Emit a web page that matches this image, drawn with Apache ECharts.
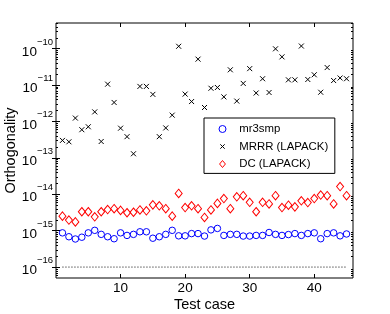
<!DOCTYPE html>
<html><head><meta charset="utf-8">
<script src="https://cdn.jsdelivr.net/npm/echarts@6/dist/echarts.min.js"></script>
<style>html,body{margin:0;padding:0;background:#fff}#c{width:390px;height:314px}</style>
</head><body><div id="c"></div>
<script>
const testCases = [1,2,3,4,5,6,7,8,9,10,11,12,13,14,15,16,17,18,19,20,21,22,23,24,25,26,27,28,29,30,31,32,33,34,35,36,37,38,39,40,41,42,43,44,45];
const mr3smp = [8.7e-16,6.8e-16,5.9e-16,6.6e-16,8.7e-16,1.02e-15,7.9e-16,6.8e-16,6.0e-16,8.7e-16,7.4e-16,7.9e-16,9.3e-16,9.3e-16,6.2e-16,6.8e-16,7.9e-16,1.02e-15,7.2e-16,7.2e-16,8.3e-16,8.3e-16,7.1e-16,1.05e-15,1.15e-15,7.4e-16,7.9e-16,7.9e-16,7.1e-16,7.1e-16,7.4e-16,7.4e-16,8.9e-16,7.9e-16,7.4e-16,7.8e-16,8.3e-16,7.4e-16,8.3e-16,8.7e-16,6.0e-16,8.3e-16,8.7e-16,7.2e-16,8.1e-16];
const mrrr = [3.0e-13,2.75e-13,1.23e-12,5.9e-13,7.1e-13,1.82e-12,2.8e-13,1.05e-11,3.3e-12,6.5e-13,3.8e-13,1.29e-13,9.1e-12,9.1e-12,5.5e-12,3.8e-13,6.6e-13,1.48e-12,1.15e-10,5.6e-12,3.5e-12,5.1e-11,2.4e-12,8.1e-12,8.5e-12,4.7e-12,2.6e-11,3.6e-12,1.1e-11,2.8e-11,6.0e-12,1.48e-11,6.2e-12,9.8e-11,5.9e-11,1.38e-11,1.38e-11,1.17e-10,1.41e-11,1.9e-11,6.3e-12,3.0e-11,1.32e-11,1.55e-11,1.48e-11];
const dc = [2.5e-15,1.95e-15,1.74e-15,3.3e-15,3.3e-15,2.4e-15,3.3e-15,3.8e-15,4.0e-15,3.6e-15,3.1e-15,3.2e-15,3.7e-15,3.5e-15,5.1e-15,4.8e-15,4.0e-15,2.5e-15,1.05e-14,4.3e-15,4.8e-15,4.0e-15,2.3e-15,3.7e-15,5.6e-15,7.6e-15,4.0e-15,8.5e-15,9.1e-15,6.0e-15,3.3e-15,6.0e-15,5.4e-15,9.1e-15,4.3e-15,5.0e-15,4.5e-15,6.6e-15,5.9e-15,7.6e-15,9.5e-15,9.1e-15,5.4e-15,1.62e-14,9.1e-15];
const seriesNames = ['mr3smp', 'MRRR (LAPACK)', 'DC (LAPACK)'];
const refLevel = 1e-16;
const refRange = [1, 45];
const xTickValues = [10, 20, 30, 40];
const yTickValues = [1e-16, 1e-15, 1e-14, 1e-13, 1e-12, 1e-11, 1e-10];
const decades = [-17,-16,-15,-14,-13,-12,-11,-10];
const minorMultipliers = [2,3,4,5,6,7,8,9];

const X_MIN = 0, X_MAX = 46;
const Y_MIN = Math.pow(10, -16.3), Y_MAX = Math.pow(10, -9.3);
const FONT = 'Liberation Sans, Arial, Helvetica, sans-serif';
const CROSS = 'path://M-3,-3M0,0L10,10M10,0L0,10M13,13';
const DIAMOND = 'path://M5,0L10,6L5,12L0,6Z';

const pairs = arr => testCases.map((x, i) => [x, arr[i]]);
const minorVals = [];
decades.forEach(d => minorMultipliers.forEach(m => {
  const v = m * Math.pow(10, d);
  if (v > Y_MIN && v < Y_MAX) minorVals.push([X_MIN, v]);
}));

function yLabel(v) {
  const e = Math.round(Math.log10(v));
  return '{b|10}{e|\u2212' + (-e) + '}';
}

const chart = echarts.init(document.getElementById('c'), null, {renderer: 'canvas'});
const tickStyle = {show: true, inside: true, length: 4, lineStyle: {color: '#000', width: 1}};
const yCommon = {
  type: 'log', logBase: 10, min: Y_MIN, max: Y_MAX,
  axisLine: {show: false}, splitLine: {show: false},
  axisTick: Object.assign({customValues: yTickValues}, tickStyle)
};
const xCommon = {
  type: 'value', min: X_MIN, max: X_MAX,
  axisLine: {show: false}, splitLine: {show: false},
  axisTick: Object.assign({customValues: xTickValues}, tickStyle)
};
chart.setOption({
  animation: false,
  backgroundColor: '#fff',
  textStyle: {fontFamily: FONT},
  grid: {left: 56, top: 23, width: 297, height: 255, containLabel: false, outerBoundsMode: 'none',
    show: true, borderColor: '#000', borderWidth: 1, backgroundColor: '#fff'},
  xAxis: [
    Object.assign({}, xCommon, {
      position: 'bottom',
      name: 'Test case', nameLocation: 'middle', nameGap: 19, nameMoveOverlap: false,
      nameTextStyle: {fontSize: 14.5, color: '#000', fontFamily: FONT},
      axisLabel: {show: true, margin: 3, fontSize: 13.5, color: '#000', fontFamily: FONT, customValues: xTickValues}
    }),
    Object.assign({}, xCommon, {position: 'top', axisLabel: {show: false}})
  ],
  yAxis: [
    Object.assign({}, yCommon, {
      position: 'left',
      name: 'Orthogonality', nameLocation: 'middle', nameGap: 38, nameMoveOverlap: false,
      nameTextStyle: {fontSize: 14.5, color: '#000', fontFamily: FONT},
      axisLabel: {show: true, margin: 3, color: '#000', fontFamily: FONT, customValues: yTickValues,
        formatter: yLabel,
        rich: {
          b: {fontSize: 13.5, color: '#000', fontFamily: FONT, padding: [7, 0, 0, 0]},
          e: {fontSize: 9.5, color: '#000', fontFamily: FONT, padding: [0, 0, 13, 0]}
        }}
    }),
    Object.assign({}, yCommon, {position: 'right', axisLabel: {show: false}})
  ],
  legend: {
    orient: 'vertical', left: 204, top: 118,
    backgroundColor: '#fff', borderColor: '#000', borderWidth: 1,
    padding: [4, 6.6, 2.4, 14.5],
    itemWidth: 7, itemHeight: 7, itemGap: 3.5, symbolKeepAspect: true,
    formatter: name => '{t|' + name + '}',
    textStyle: {fontSize: 11.4, color: '#000', fontFamily: FONT, lineHeight: 14,
      rich: {t: {fontSize: 11.4, color: '#000', fontFamily: FONT, lineHeight: 14, padding: [0, 0, 0, 8.2]}}},
    data: [
      {name: seriesNames[0], icon: 'circle', itemStyle: {color: 'transparent', borderColor: '#0000ff', borderWidth: 1}},
      {name: seriesNames[1], icon: CROSS, itemStyle: {color: 'transparent', borderColor: '#000', borderWidth: 1}},
      {name: seriesNames[2], icon: DIAMOND, itemStyle: {color: 'transparent', borderColor: '#ff0000', borderWidth: 1}}
    ]
  },
  series: [
    {
      type: 'line', silent: true, data: [[refRange[0], refLevel], [refRange[1], refLevel]],
      showSymbol: false, symbol: 'none',
      lineStyle: {type: [1, 2], color: '#000', width: 1}, z: 1
    },
    {
      name: seriesNames[0], type: 'scatter', data: pairs(mr3smp),
      symbol: 'circle', symbolSize: 6.5,
      itemStyle: {color: 'transparent', borderColor: '#0000ff', borderWidth: 1, opacity: 1}, z: 3
    },
    {
      name: seriesNames[1], type: 'scatter', data: pairs(mrrr),
      symbol: CROSS, symbolSize: 8, symbolKeepAspect: true,
      itemStyle: {color: 'transparent', borderColor: '#000', borderWidth: 1, opacity: 1}, z: 3
    },
    {
      name: seriesNames[2], type: 'scatter', data: pairs(dc),
      symbol: 'diamond', symbolSize: [7, 8.5],
      itemStyle: {color: 'transparent', borderColor: '#ff0000', borderWidth: 1, opacity: 1}, z: 3
    },
    {
      type: 'custom', silent: true, data: minorVals, encode: {x: 0, y: 1}, z: 2, clip: false,
      renderItem: function (params, api) {
        const v = api.value(1);
        const p1 = api.coord([X_MIN, v]);
        const p2 = api.coord([X_MAX, v]);
        const y = Math.round(p1[1]) + 0.5;
        return {type: 'group', children: [
          {type: 'line', shape: {x1: p1[0], y1: y, x2: p1[0] + 2, y2: y}, style: {stroke: '#000', lineWidth: 1}},
          {type: 'line', shape: {x1: p2[0] - 2, y1: y, x2: p2[0], y2: y}, style: {stroke: '#000', lineWidth: 1}}
        ]};
      }
    }
  ]
});
</script>
</body></html>
